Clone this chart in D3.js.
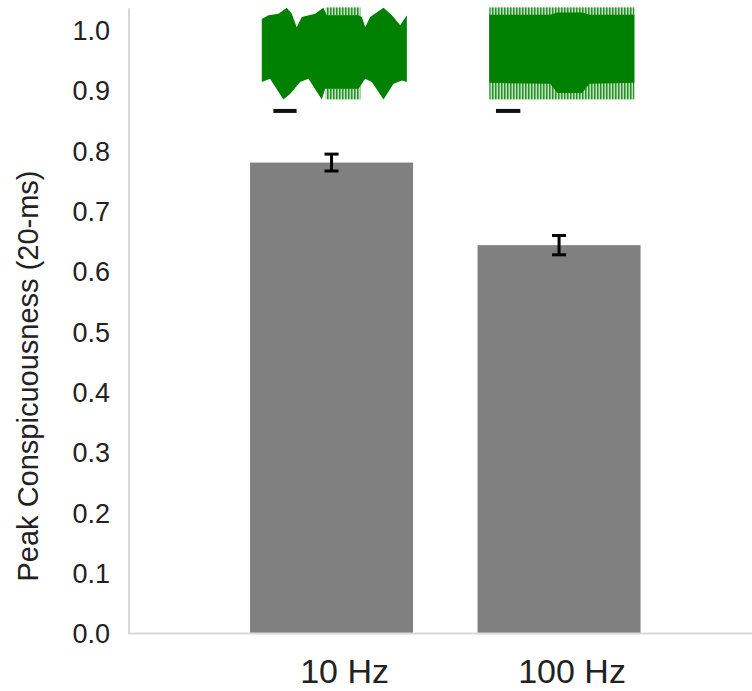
<!DOCTYPE html>
<html>
<head>
<meta charset="utf-8">
<script src="https://cdn.jsdelivr.net/npm/d3@7/dist/d3.min.js"></script>
<style>
  html, body { margin: 0; padding: 0; background: #fff; }
  svg { display: block; }
  text { font-family: "Liberation Sans", Arial, sans-serif; fill: #222; }
</style>
</head>
<body>
<svg id="chart" width="752" height="691"></svg>
<script>
// ---- data ----
const categories = ["10 Hz", "100 Hz"];
const values = [0.781, 0.644];
const errors = [0.014, 0.016];
const yTicks = [0.0, 0.1, 0.2, 0.3, 0.4, 0.5, 0.6, 0.7, 0.8, 0.9, 1.0];
const yLabel = "Peak Conspicuousness (20-ms)";

// waveform insets: envelopes as [time fraction, amplitude fraction]
const wave10Top = [[0,0.75],[0.046,0.83],[0.115,0.86],[0.172,0.99],[0.207,0.86],[0.241,0.57],[0.276,0.79],[0.368,0.86],[0.425,0.99],[0.448,0.83],[0.667,0.83],[0.69,0.79],[0.713,0.57],[0.747,0.79],[0.839,0.99],[0.897,0.83],[0.954,0.61],[1,0.83]];
const wave10Bottom = [[0,0.62],[0.057,0.55],[0.149,1.0],[0.195,0.88],[0.264,0.62],[0.322,0.55],[0.414,1.0],[0.437,0.77],[0.667,0.77],[0.713,0.55],[0.759,0.62],[0.839,1.0],[0.908,0.66],[0.966,0.59],[1,0.62]];
const wave10Spikes = [[0.44, 0.68]];
const wave100Top = [[0,0.84],[0.42,0.84],[0.47,0.89],[0.64,0.89],[0.69,0.84],[1,0.84]];
const wave100Bottom = [[0,0.64],[0.42,0.66],[0.47,0.86],[0.64,0.86],[0.69,0.66],[1,0.64]];
const wave100Spikes = [[0, 1]];
const scaleBar10 = [0.08, 0.24];
const scaleBar100 = [0.046, 0.214];

const waves = [
  {top: wave10Top, bottom: wave10Bottom, spikes: wave10Spikes, bar: scaleBar10},
  {top: wave100Top, bottom: wave100Bottom, spikes: wave100Spikes, bar: scaleBar100}
];

// ---- layout ----
const svg = d3.select("#chart");
const left = 129, bottom = 633.5;
const y = d3.scaleLinear().domain([0, 1]).range([bottom, 30.5]);
const x = d3.scaleBand().domain(categories).range([left, 761.6]).paddingInner(0.2835).paddingOuter(0.532);
const bw = x.bandwidth();

// stripe pattern for the dense carrier texture at the envelope edges
const defs = svg.append("defs");
const pat = defs.append("pattern").attr("id", "spikes").attr("patternUnits", "userSpaceOnUse")
  .attr("width", 3).attr("height", 10);
pat.append("rect").attr("x", 0).attr("y", 0).attr("width", 1.6).attr("height", 10)
  .attr("fill", "#008000").attr("opacity", 0.85);
pat.append("rect").attr("x", 1.6).attr("y", 0).attr("width", 1.4).attr("height", 10)
  .attr("fill", "#008000").attr("opacity", 0.25);

// bars
svg.selectAll("rect.bar").data(categories).join("rect")
  .attr("class", "bar")
  .attr("x", d => x(d))
  .attr("width", bw)
  .attr("y", (d, i) => y(values[i]))
  .attr("height", (d, i) => y(0) - y(values[i]))
  .attr("fill", "#808080");

// axes lines
svg.append("line").attr("x1", left).attr("x2", left).attr("y1", y(1.037)).attr("y2", bottom)
  .attr("stroke", "#d9d9d9").attr("stroke-width", 2);
svg.append("line").attr("x1", left - 1).attr("x2", 752).attr("y1", bottom).attr("y2", bottom)
  .attr("stroke", "#d9d9d9").attr("stroke-width", 2);

// y tick labels
const tickFs = 27;
svg.selectAll("text.ytick").data(yTicks).join("text")
  .attr("class", "ytick")
  .attr("x", left - 19)
  .attr("y", d => y(d) + tickFs * 0.358)
  .attr("text-anchor", "end")
  .attr("font-size", tickFs)
  .text(d => d3.format(".1f")(d));

// x labels
svg.selectAll("text.xlab").data(categories).join("text")
  .attr("class", "xlab")
  .attr("x", d => x(d) + bw / 2 + 13)
  .attr("y", 683)
  .attr("text-anchor", "middle")
  .attr("font-size", 34)
  .text(d => d);

// y label
svg.append("text")
  .attr("transform", "translate(38," + 376 + ") rotate(-90)")
  .attr("text-anchor", "middle")
  .attr("font-size", 29)
  .text(yLabel);

// error bars
const eg = svg.selectAll("g.err").data(categories).join("g").attr("class", "err");
eg.append("line")
  .attr("x1", d => x(d) + bw / 2).attr("x2", d => x(d) + bw / 2)
  .attr("y1", (d, i) => y(values[i] + errors[i])).attr("y2", (d, i) => y(values[i] - errors[i]))
  .attr("stroke", "#000").attr("stroke-width", 3);
[1, -1].forEach(s => {
  eg.append("line")
    .attr("x1", d => x(d) + bw / 2 - 7).attr("x2", d => x(d) + bw / 2 + 7)
    .attr("y1", (d, i) => y(values[i] + s * errors[i])).attr("y2", (d, i) => y(values[i] + s * errors[i]))
    .attr("stroke", "#000").attr("stroke-width", 3);
});

// waveform insets
const waveCenter = 0.962, waveHalf = 0.0763;
waves.forEach((w, i) => {
  const x0 = x(categories[i]) + 0.072 * bw;
  const tx = d3.scaleLinear().domain([0, 1]).range([x0, x0 + 0.89 * bw]);
  const ay = d3.scaleLinear().domain([-1, 1]).range([y(waveCenter - waveHalf), y(waveCenter + waveHalf)]);
  const g = svg.append("g");
  // dense carrier texture (spiky edges)
  w.spikes.forEach(s => {
    g.append("rect")
      .attr("x", tx(s[0])).attr("width", tx(s[1]) - tx(s[0]))
      .attr("y", ay(1)).attr("height", ay(-1) - ay(1))
      .attr("fill", "url(#spikes)");
  });
  const pts = w.top.map(p => [tx(p[0]), ay(p[1])])
    .concat(w.bottom.slice().reverse().map(p => [tx(p[0]), ay(-p[1])]));
  g.append("path")
    .attr("d", d3.line()(pts) + "Z")
    .attr("fill", "#008000");
  // scale bar
  g.append("line")
    .attr("x1", tx(w.bar[0])).attr("x2", tx(w.bar[1]))
    .attr("y1", y(waveCenter - waveHalf) + 11.5).attr("y2", y(waveCenter - waveHalf) + 11.5)
    .attr("stroke", "#111").attr("stroke-width", 4);
});
</script>
</body>
</html>
